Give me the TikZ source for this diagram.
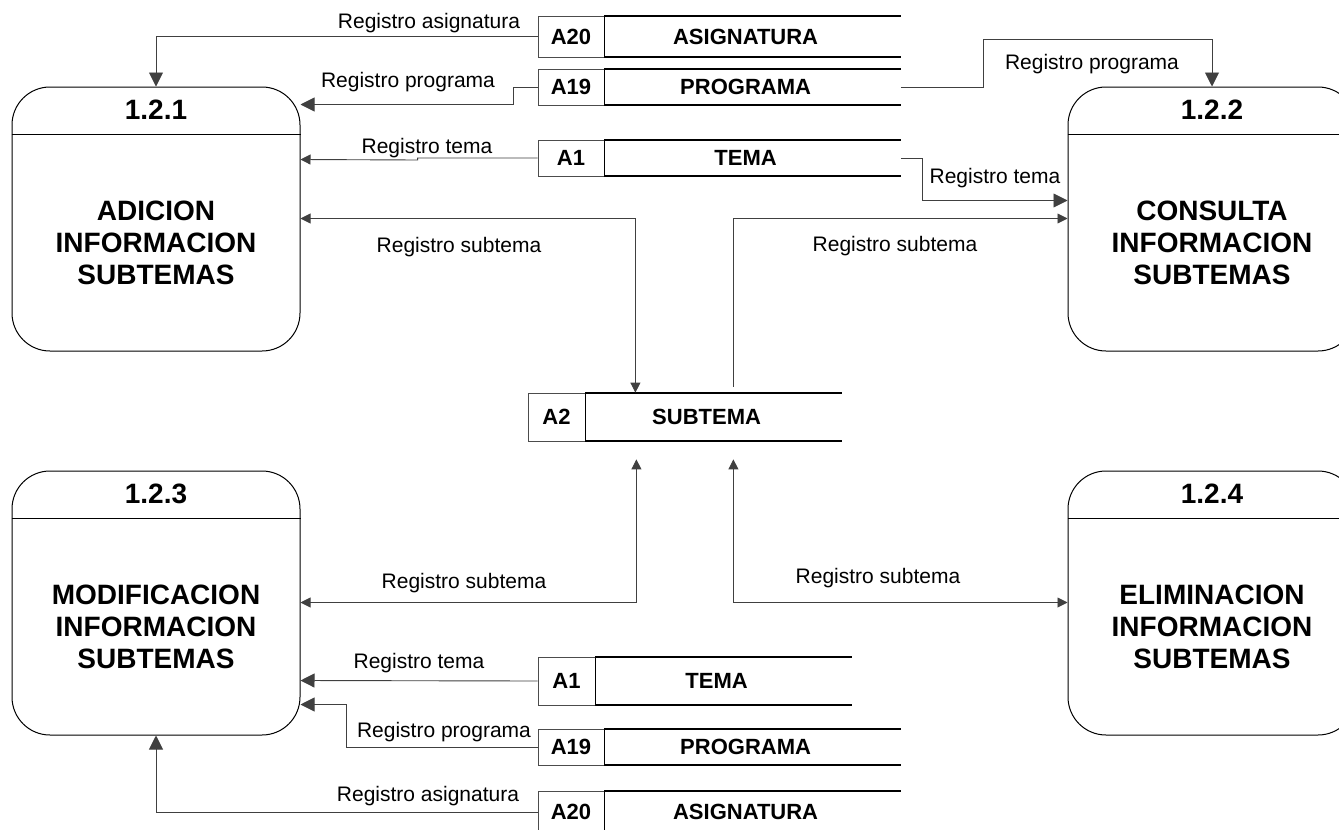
\documentclass[tikz,border=0pt]{standalone}
\usepackage{fontspec}
\setmainfont{Liberation Sans}
\usetikzlibrary{arrows.meta,calc}
\tikzset{
  BigTri/.tip={Triangle[length=14pt,width=14pt]},
  SmTri/.tip={Triangle[length=10pt,width=10pt]},
}
\newcommand\dfstore[8]{%
  \node[sid, minimum width=#5pt, minimum height=#6pt] (#1id) at (#3,#4) {#2};
  \node[smain, minimum width=#7pt, minimum height=#6pt, anchor=west] (#1) at (#1id.east) {\hspace*{-14pt}#8};
  \draw[sline] (#1.north east) -- (#1.north west) -- (#1.south west) -- (#1.south east);
}
\begin{document}
\begin{tikzpicture}[x=1pt,y=-1pt,
  proc/.style={draw=black, line width=1pt, rounded corners=38pt, minimum width=288pt, minimum height=264pt, inner sep=0pt},
  pnum/.style={font=\bfseries\fontsize{28}{32}\selectfont, inner sep=0pt},
  ptext/.style={font=\bfseries\fontsize{28}{32}\selectfont, align=center, inner sep=0pt},
  sid/.style={draw=black!70, line width=0.8pt, inner sep=0pt, font=\bfseries\fontsize{22}{25}\selectfont},
  smain/.style={inner sep=0pt, font=\bfseries\fontsize{22}{25}\selectfont},
  sline/.style={line width=1.8pt, black},
  flow/.style={draw=black!75, line width=0.9pt},
  lbl/.style={font=\fontsize{21}{25}\selectfont, anchor=base, inner sep=0pt},
]
\clip (0,0) rectangle (1339,830);
\fill[white] (0,0) rectangle (1339,830);

% processes
\foreach \n/\x/\y/\num/\txt in {p1/156/219/1.2.1/{ADICION\\INFORMACION\\SUBTEMAS},
                                 p2/1212/219/1.2.2/{CONSULTA\\INFORMACION\\SUBTEMAS},
                                 p3/156/603/1.2.3/{MODIFICACION\\INFORMACION\\SUBTEMAS},
                                 p4/1212/603/1.2.4/{ELIMINACION\\INFORMACION\\SUBTEMAS}}{
  \node[proc] (\n) at (\x,\y) {};
  \draw[line width=0.9pt] ($(\n.north west)+(0,48)$) -- ($(\n.north east)+(0,48)$);
  \node[pnum] (\n num) at ($(\n.north)+(0,23)$) {\num};
  \node[ptext] (\n txt) at ($(\n.center)+(0,24)$) {\txt};
}

% stores
\dfstore{s20}{A20}{571}{36.5}{66}{41}{296}{ASIGNATURA}
\dfstore{s19}{A19}{571}{87}{66}{36}{296}{PROGRAMA}
\dfstore{s1}{A1}{571}{158}{66}{36}{296}{TEMA}
\dfstore{s2}{A2}{556.5}{417}{57}{48}{256}{SUBTEMA}
\dfstore{b1}{A1}{566.5}{681}{57}{48}{256}{TEMA}
\dfstore{b19}{A19}{571}{747}{66}{36}{296}{PROGRAMA}
\dfstore{b20}{A20}{571}{812}{66}{42}{296}{ASIGNATURA}

% flows top
\draw[flow,-BigTri] (s20id.west) -| (p1.north);
\draw[flow,-BigTri] (s19id.west) -- ++(-24,0) |- ($(p1.north east)+(0,18)$);
\draw[flow,-SmTri] (s1id.west) -- ++(-120,0) -- ++(0,2) -- ($(p1.north east)+(0,73)$);
\draw[flow,SmTri-SmTri] ($(p1.north east)+(0,132)$) -| ($(s2id.north east)+(50,0)$);
\draw[flow,-SmTri] ($(s2id.north east)+(148,-6)$) |- ($(p2.north west)+(0,132)$);
\draw[flow,-BigTri] (s19.east) -- ++(83,0) -- ++(0,-48) -| (p2.north);
\draw[flow,-BigTri] (s1.east) -- ++(22,0) |- ($(p2.north west)+(0,114)$);

% flows bottom
\draw[flow,SmTri-SmTri] ($(p3.north east)+(0,132)$) -| ($(s2id.south east)+(51,18)$);
\draw[flow,SmTri-SmTri] ($(s2id.south east)+(148,18)$) |- ($(p4.north west)+(0,132)$);
\draw[flow,-BigTri] (b1id.west) -- ($(p3.north east)+(0,210)$);
\draw[flow,-BigTri] (b19id.west) -- ++(-191,0) |- ($(p3.north east)+(0,234)$);
\draw[flow,-BigTri] (b20id.west) -| (p3.south);

% labels
\node[lbl] (l1) at (429,28) {Registro asignatura};
\node[lbl] (l2) at (408,87) {Registro programa};
\node[lbl] (l3) at (427,153) {Registro tema};
\node[lbl] (l4) at (459,252) {Registro subtema};
\node[lbl] (l5) at (895,251) {Registro subtema};
\node[lbl] (l6) at (1092,69) {Registro programa};
\node[lbl] (l7) at (995,183) {Registro tema};
\node[lbl] (l8) at (464,588) {Registro subtema};
\node[lbl] (l9) at (878,583) {Registro subtema};
\node[lbl] (l10) at (419,668) {Registro tema};
\node[lbl] (l11) at (444,737) {Registro programa};
\node[lbl] (l12) at (428,801) {Registro asignatura};
\end{tikzpicture}
\end{document}
